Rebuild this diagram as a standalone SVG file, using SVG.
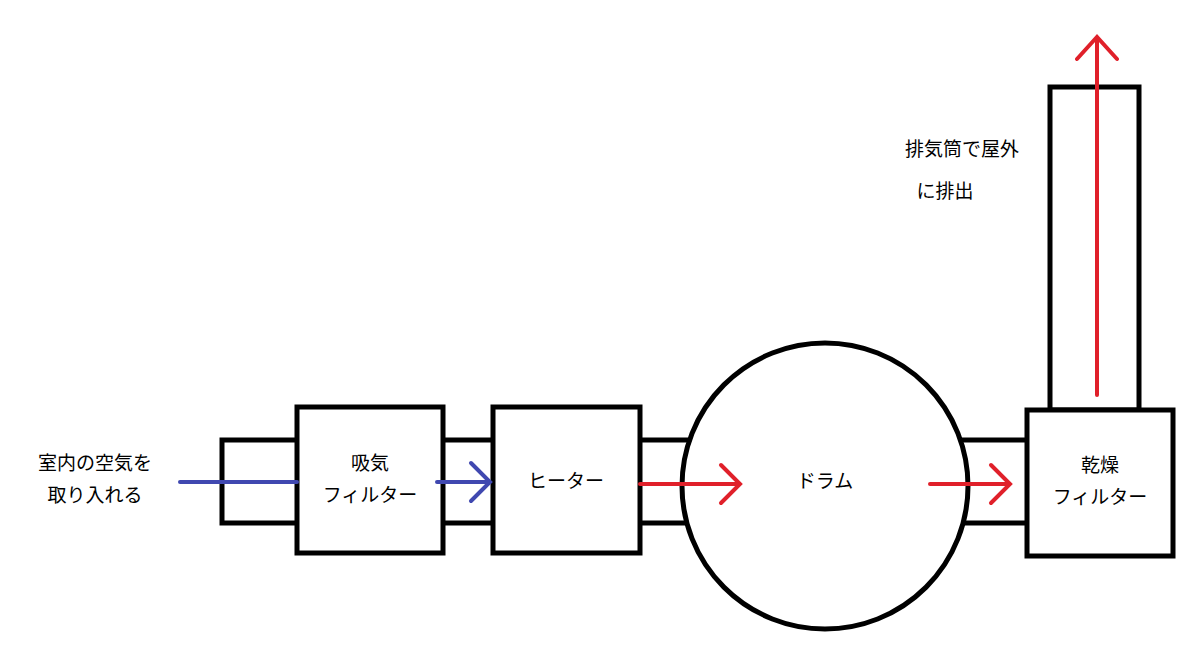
<svg xmlns="http://www.w3.org/2000/svg" width="1200" height="664" viewBox="0 0 1200 664">
<style>
.b{fill:#fff;stroke:#000;stroke-width:5}
.p{fill:none;stroke:#000;stroke-width:5}
.t{font-family:"Noto Sans CJK JP","Noto Sans",sans-serif;font-size:19px;fill:#000;text-anchor:middle}
.bl{fill:none;stroke:#4048b0;stroke-width:4;stroke-linecap:round}
.rd{fill:none;stroke:#e0202a;stroke-width:4;stroke-linecap:round}
</style>
<rect width="1200" height="664" fill="#fff"/>
<g id="pipes">
<path class="p" d="M297,440 H222 V523 H297"/>
<path class="p" d="M443,440 H493 M443,523 H493"/>
<path class="p" d="M640,440 H688 M640,523 H688"/>
<path class="p" d="M960,440 H1027 M962,523 H1027"/>
</g>
<g id="intake"><rect class="b" x="297" y="407" width="146" height="146"/><text class="t" x="370" y="470">吸気</text><text class="t" x="370" y="502">フィルター</text></g>
<g id="heater"><rect class="b" x="493" y="407" width="147" height="146"/><text class="t" x="566" y="488">ヒーター</text></g>
<g id="drum"><circle class="b" cx="825" cy="486" r="143"/><text class="t" x="825" y="488">ドラム</text></g>
<g id="chimney"><rect class="b" x="1050" y="87" width="89" height="323"/></g>
<g id="dryer"><rect class="b" x="1027" y="410" width="146" height="146"/><text class="t" x="1100" y="472">乾燥</text><text class="t" x="1100" y="504">フィルター</text></g>
<g id="labels">
<text class="t" x="95" y="470">室内の空気を</text><text class="t" x="95" y="502">取り入れる</text>
<text class="t" x="962" y="156">排気筒で屋外</text><text class="t" x="945" y="198">に排出</text>
</g>
<g id="connectors">
<path class="bl" d="M180,482 H297"/>
<path class="bl" d="M437,482 H490 M471,463 L490,482 L471,501"/>
<path class="rd" d="M640,484 H740 M721,465 L740,484 L721,503"/>
<path class="rd" d="M930,484 H1010 M991,465 L1010,484 L991,503"/>
<path class="rd" d="M1097,395 V37 M1077,59 L1097,37 L1117,59"/>
</g>
</svg>
